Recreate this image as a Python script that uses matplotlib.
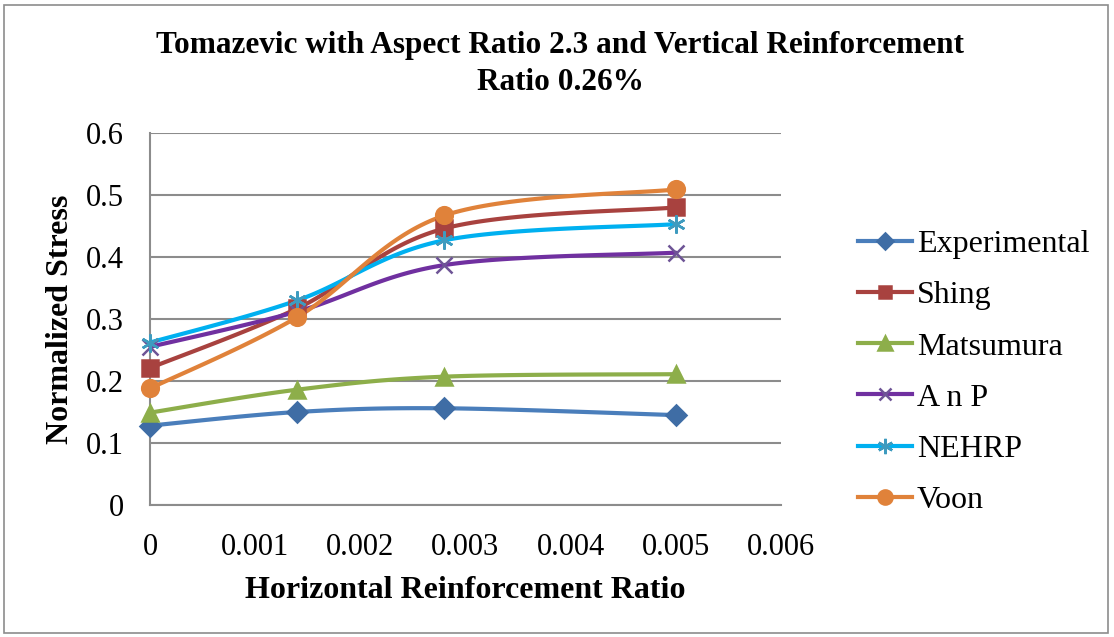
import numpy as np
import matplotlib
matplotlib.use("Agg")
import matplotlib.pyplot as plt
from matplotlib.patches import Rectangle

plt.rcParams['font.family'] = ['Liberation Serif', 'DejaVu Serif']

# data
x_ratio = [0, 0.0014, 0.0028, 0.005]
experimental = [0.128, 0.150, 0.156, 0.145]
shing = [0.221, 0.317, 0.446, 0.480]
matsumura = [0.149, 0.186, 0.207, 0.211]
anp = [0.255, 0.312, 0.387, 0.407]
nehrp = [0.262, 0.330, 0.427, 0.453]
voon = [0.188, 0.303, 0.467, 0.509]

series = [
    ("Experimental", experimental, '#4A7EBB', '#3F6DA5', 'D', 10),
    ("Shing", shing, '#A8423F', '#A8423F', 's', 11),
    ("Matsumura", matsumura, '#8DAE4A', '#8DAE4A', '^', 12),
    ("A n P", anp, '#7030A0', '#6E5496', 'x', 11),
    ("NEHRP", nehrp, '#00B0F0', '#3E9BBF', (6, 2, 0), 13),
    ("Voon", voon, '#E0823A', '#E0823A', 'o', 12),
]


def smooth(xs, ys, n=40):
    # excel-like smoothed line: cubic bezier with catmull-rom tangents
    xs = np.asarray(xs, float)
    ys = np.asarray(ys, float)
    px = np.concatenate([[xs[0]], xs, [xs[-1]]])
    py = np.concatenate([[ys[0]], ys, [ys[-1]]])
    out_x, out_y = [], []
    t = np.linspace(0, 1, n)
    for i in range(1, len(xs)):
        p0 = np.array([px[i], py[i]])
        p3 = np.array([px[i + 1], py[i + 1]])
        c1 = p0 + (np.array([px[i + 1], py[i + 1]]) - np.array([px[i - 1], py[i - 1]])) / 6
        c2 = p3 - (np.array([px[i + 2], py[i + 2]]) - np.array([px[i], py[i]])) / 6
        b = ((1 - t) ** 3)[:, None] * p0 + (3 * (1 - t) ** 2 * t)[:, None] * c1 \
            + (3 * (1 - t) * t ** 2)[:, None] * c2 + (t ** 3)[:, None] * p3
        out_x.extend(b[:, 0])
        out_y.extend(b[:, 1])
    return out_x, out_y


fig = plt.figure(figsize=(11.14, 6.37), dpi=100)
ax = fig.add_axes([150 / 1114, 1 - 505 / 637, 631 / 1114, 372 / 637])

for name, ys, lc, mc, mk, ms in series:
    sx, sy = smooth(x_ratio, ys)
    ax.plot(sx, sy, color=lc, lw=3, zorder=2, solid_capstyle='round')
    ax.plot(x_ratio, ys, linestyle='none', marker=mk, markersize=ms,
            color=mc, markeredgecolor=mc, markeredgewidth=1.8, zorder=3,
            clip_on=False)
    ax.plot([], [], color=lc, lw=3, marker=mk, markersize=ms * 0.85,
            markerfacecolor=mc, markeredgecolor=mc, markeredgewidth=1.8,
            label=name)

ax.set_xlim(0, 0.006)
ax.set_ylim(0, 0.6)
ax.set_xticks([0, 0.001, 0.002, 0.003, 0.004, 0.005, 0.006])
ax.set_xticklabels(['0', '0.001', '0.002', '0.003', '0.004', '0.005', '0.006'])
ax.set_yticks([0, 0.1, 0.2, 0.3, 0.4, 0.5, 0.6])
ax.set_yticklabels(['0', '0.1', '0.2', '0.3', '0.4', '0.5', '0.6'])
ax.tick_params(length=0, labelsize=22)
ax.tick_params(axis='y', pad=19)
ax.tick_params(axis='x', pad=20)
ax.yaxis.grid(True, color='#8C8C8C', lw=1.5)
ax.set_axisbelow(True)
for s in ['top', 'right']:
    ax.spines[s].set_visible(False)
for s in ['left', 'bottom']:
    ax.spines[s].set_color('#8C8C8C')
    ax.spines[s].set_linewidth(1.5)

ax.set_xlabel("Horizontal Reinforcement Ratio", fontsize=23, fontweight='bold', labelpad=10)
ax.set_ylabel("Normalized Stress", fontsize=23, fontweight='bold', labelpad=8)

fig.text(0.503, 1 - 45 / 637, "Tomazevic with Aspect Ratio 2.3 and Vertical Reinforcement",
         ha='center', va='center', fontsize=22.5, fontweight='bold')
fig.text(0.503, 1 - 83 / 637, "Ratio 0.26%",
         ha='center', va='center', fontsize=22.5, fontweight='bold')

ax.legend(loc='upper left', bbox_to_anchor=(858 / 1114, 1 - 230 / 637),
          bbox_transform=fig.transFigure, frameon=False, fontsize=23,
          handlelength=1.7, handletextpad=0.15, labelspacing=0.68,
          borderaxespad=0, borderpad=0)

fig.patches.append(Rectangle((4 / 1114, 4 / 637), 1104 / 1114, 628 / 637,
                             transform=fig.transFigure, fill=False,
                             edgecolor='#8C8C8C', lw=1.2))

fig.savefig("out.png", dpi=100)
